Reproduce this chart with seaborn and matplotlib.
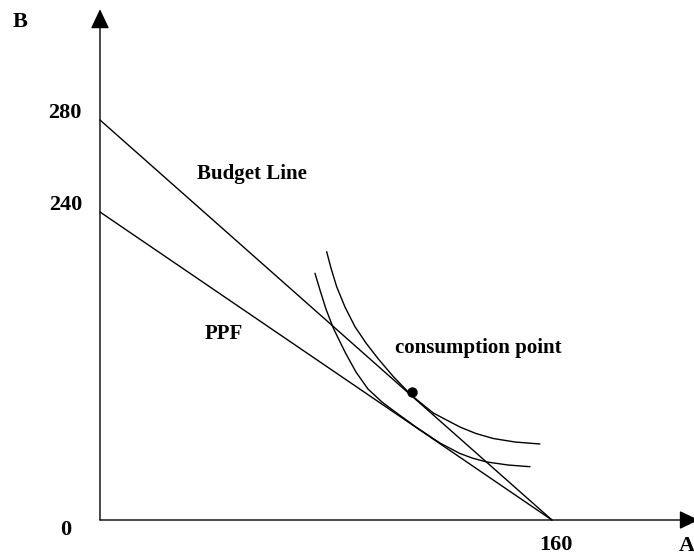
import numpy as np
import matplotlib
matplotlib.use('Agg')
import matplotlib.pyplot as plt
import seaborn as sns

# intercepts
budget_a = [0, 160]
budget_b = [280, 0]
ppf_a = [0, 160]
ppf_b = [240, 0]

# indifference curve touching the budget line
ic_high_a = [80.25, 81.77, 83.79, 86.73, 90.27, 94.16, 98.41, 103.82, 110.34,
             117.98, 127.43, 133.10, 139.22, 146.90, 155.75]
ic_high_b = [209.07, 196.37, 181.80, 165.98, 150.63, 137.93, 125.85, 111.82, 97.02,
             83.38, 72.47, 67.40, 63.51, 60.78, 59.22]

# indifference curve touching the PPF
ic_low_a = [76.11, 77.88, 80.00, 82.58, 86.73, 90.62, 94.87, 99.82, 105.03,
            112.11, 120.35, 127.43, 132.04, 136.99, 144.42, 152.21]
ic_low_b = [192.24, 179.23, 164.42, 149.61, 130.91, 115.33, 102.08, 91.95, 83.38,
            72.08, 60.00, 51.82, 48.08, 45.20, 42.86, 41.53]

consumption = (110.3, 99.8)

b_ticks = [0, 240, 280]
a_ticks = [160]

sns.set_theme(style='white')
plt.rcParams['font.family'] = ['Liberation Serif', 'DejaVu Serif']

# the picture is not drawn to scale: the 240..280 band is stretched
scale_data = np.array([-1000, 0, 240, 280, 1000])
scale_px = np.array([-1283.3, 0, 308, 400, 400 + 720 * 1.2833])


def fwd(y):
    return np.interp(y, scale_data, scale_px)


def inv(y):
    return np.interp(y, scale_px, scale_data)


fig = plt.figure(figsize=(6.94, 5.57), dpi=100)
ax = fig.add_axes([0, 0, 1, 1])
ax.set_yscale('function', functions=(fwd, inv))
ax.set_xlim(-35.4, 210.3)
ax.set_ylim(-28.83, 373.5)
ax.axis('off')

line_kw = dict(color='black', lw=1.0, solid_joinstyle='round')
sns.lineplot(x=budget_a, y=budget_b, ax=ax, **line_kw)
sns.lineplot(x=ppf_a, y=ppf_b, ax=ax, **line_kw)
ax.plot(ic_high_a, ic_high_b, **line_kw)
ax.plot(ic_low_a, ic_low_b, **line_kw)
ax.plot(*consumption, 'o', color='black', ms=6.5)

# axes with arrow heads
arrow = dict(arrowstyle='-|>,head_length=0.4,head_width=0.19', mutation_scale=30,
             color='black', lw=1.0, shrinkA=0, shrinkB=0)
ax.annotate('', xy=(0, 366.3), xytext=(0, 0), arrowprops=arrow, annotation_clip=False)
ax.annotate('', xy=(212, 0), xytext=(0, 0), arrowprops=arrow, annotation_clip=False)

num = dict(fontsize=16, fontweight='bold', color='black', ha='center', va='center',
           textcoords='offset points')
for b in b_ticks:
    dy = -7 if b == 0 else 5
    ax.annotate(str(b), xy=(0, b), xytext=(-25, dy), **num)
for a in a_ticks:
    ax.annotate(str(a), xy=(a, 0), xytext=(3, -18), **num)

txt = dict(fontsize=16, fontweight='bold', color='black', ha='center', va='center')
ax.text(-28.3, 356, 'B', **txt)
ax.text(207.8, -20.3, 'A', **txt)

lbl = dict(fontsize=15, fontweight='bold', color='black', ha='left', va='center')
ax.text(34.5, 256.5, 'Budget Line', **lbl)
ax.text(37.2, 145, 'PPF', **lbl)
ax.text(104.4, 134, 'consumption point', **lbl)

fig.savefig('out.png', dpi=100)
